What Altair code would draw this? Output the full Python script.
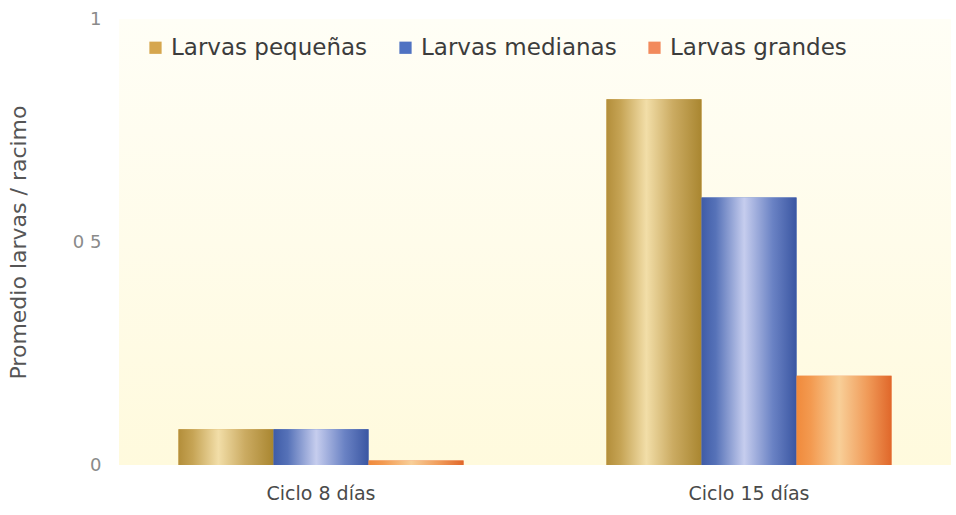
import altair as alt
import pandas as pd

categorias = ["Ciclo 8 días", "Ciclo 15 días"]
series = ["Larvas pequeñas", "Larvas medianas", "Larvas grandes"]
pequenas = [0.08, 0.82]
medianas = [0.08, 0.60]
grandes = [0.01, 0.20]
y_ticks = [0, 0.5, 1]

rows = []
for i, c in enumerate(categorias):
    for s, vals in zip(series, [pequenas, medianas, grandes]):
        rows.append({"ciclo": c, "serie": s, "valor": vals[i]})
df = pd.DataFrame(rows)

legend_colors = ["#d6a64e", "#4f72c2", "#f28a5c"]

def grad(stops):
    return alt.LinearGradient(
        gradient="linear", x1=0, x2=1, y1=0, y2=0,
        stops=[alt.GradientStop(offset=o, color=c) for o, c in stops],
    )

gradients = {
    "Larvas pequeñas": grad([(0, "#b38e3a"), (0.15, "#c6a455"), (0.42, "#f2dea8"), (0.7, "#cbab62"), (1, "#a98630")]),
    "Larvas medianas": grad([(0, "#3f5ca8"), (0.15, "#5672b8"), (0.45, "#c6cdee"), (0.75, "#6a82c4"), (1, "#3a56a2")]),
    "Larvas grandes": grad([(0, "#f08a3c"), (0.15, "#f39a50"), (0.45, "#f8cf98"), (0.75, "#f09a58"), (1, "#e0672a")]),
}

FONT = "DejaVu Sans"
W, H = 832, 446

x_enc = alt.X("ciclo:N", sort=categorias, title=None,
              scale=alt.Scale(paddingInner=0.334, paddingOuter=0.139),
              axis=alt.Axis(labelAngle=0, labelFontSize=19, labelColor="#4a4a4a",
                            labelFont=FONT, domain=False, ticks=False, labelPadding=19))
xo_enc = alt.XOffset("serie:N", sort=series, scale=alt.Scale(domain=series, paddingInner=0, paddingOuter=0))
y_enc = alt.Y("valor:Q", title="Promedio larvas / racimo",
              scale=alt.Scale(domain=[0, 1], nice=False),
              axis=alt.Axis(values=y_ticks, grid=False, domain=False, ticks=False,
                            labelExpr="datum.value == 0.5 ? '0 5' : (datum.value == 1 ? '1' : '0')",
                            labelFontSize=18, labelColor="#8a8a8a", labelFont=FONT,
                            labelPadding=18, titleFontSize=22, titleFont=FONT,
                            titleFontWeight="normal", titleColor="#555555", titlePadding=42))

bg = alt.Chart(alt.Data(values=[{}])).mark_rect(
    color=alt.LinearGradient(gradient="linear", x1=0, x2=0, y1=0, y2=1,
                             stops=[alt.GradientStop(offset=0, color="#fffef6"),
                                    alt.GradientStop(offset=0.5, color="#fffcea"),
                                    alt.GradientStop(offset=1, color="#fffadd")])
).encode(x=alt.value(0), x2=alt.value(W), y=alt.value(0), y2=alt.value(H))

base = alt.Chart(df).mark_bar().encode(
    x=x_enc, xOffset=xo_enc, y=y_enc,
    color=alt.Color("serie:N", sort=series,
                    scale=alt.Scale(domain=series, range=legend_colors),
                    legend=alt.Legend(orient="none", legendX=25, legendY=17, direction="horizontal",
                                      title=None, symbolType="square", symbolSize=150,
                                      symbolStrokeWidth=0, labelFontSize=23, labelFont=FONT,
                                      labelColor="#3c3c3c", columnPadding=26, labelLimit=400,
                                      labelOffset=4)),
)

layers = [bg, base]
for s in series:
    layers.append(
        alt.Chart(df).transform_filter(alt.datum.serie == s).mark_bar(color=gradients[s]).encode(
            x=alt.X("ciclo:N", sort=categorias), xOffset=alt.XOffset("serie:N", sort=series),
            y=alt.Y("valor:Q"))
    )

chart = alt.layer(*layers).properties(
    width=W, height=H,
    autosize=alt.AutoSizeParams(type="none"),
    padding={"left": 119, "top": 19, "right": 5, "bottom": 50},
    background="#ffffff",
).configure_view(stroke=None, fill="#fffdf0")

chart.save("out.html", embed_options={"renderer": "svg", "actions": False})
